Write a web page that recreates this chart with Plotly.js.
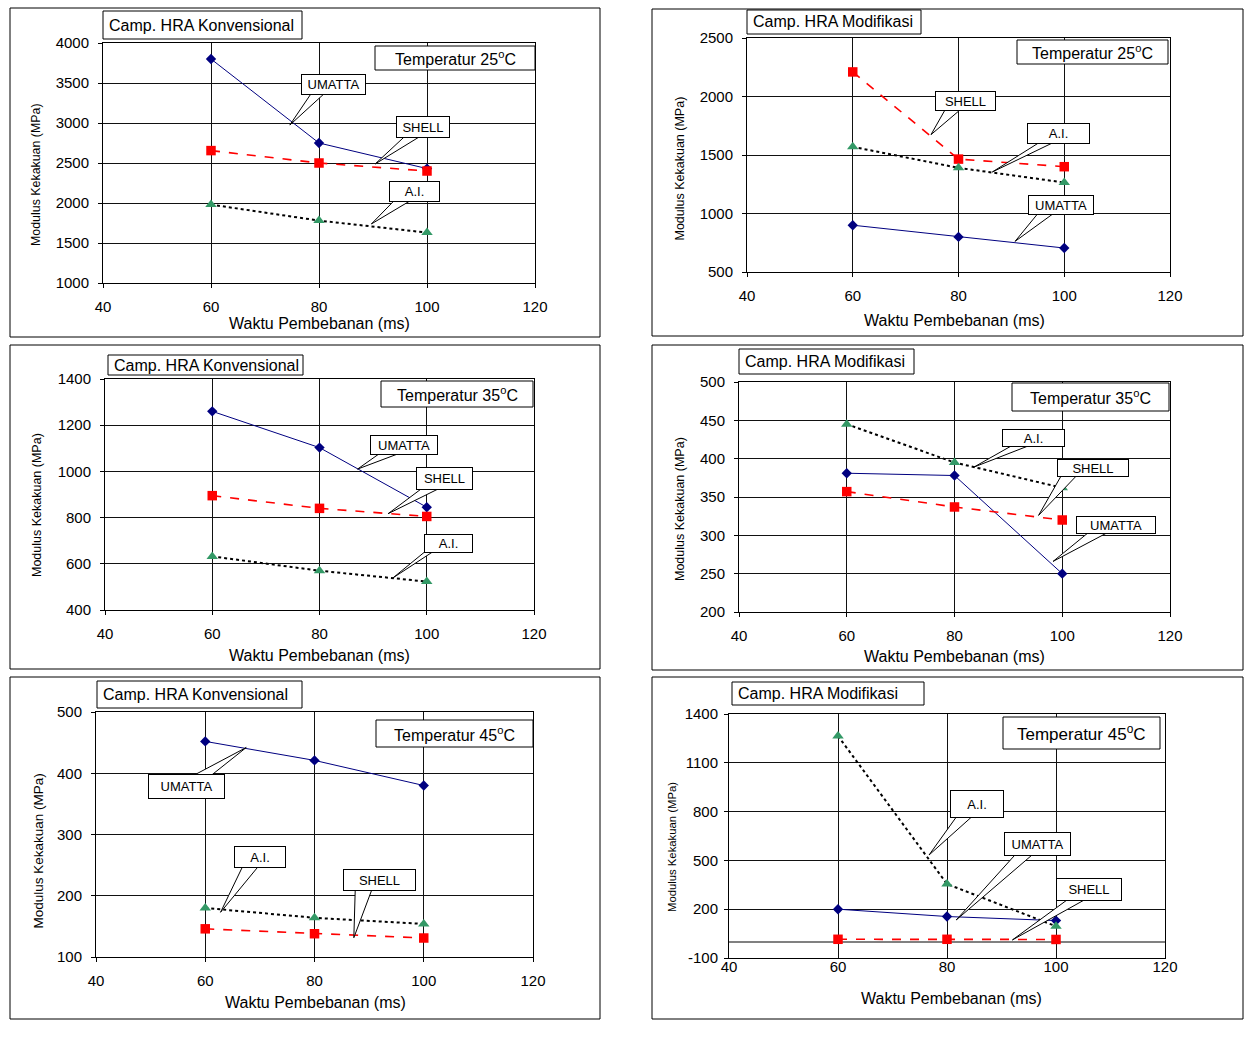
<!DOCTYPE html>
<html><head><meta charset="utf-8">
<script src="https://cdn.plot.ly/plotly-3.0.1.min.js"></script>
<style>html,body{margin:0;padding:0;background:#fff}#chart{width:1246px;height:1037px}</style>
</head><body><div id="chart"></div>
<script>
// ---------------- DATA ----------------
const waktu = [60, 80, 100];             // Waktu Pembebanan (ms)
const xTicks = [40, 60, 80, 100, 120];
const seriesNames = ['UMATTA', 'SHELL', 'A.I.'];

const konv25_umatta = [3800, 2750, 2430];
const konv25_shell  = [2655, 2500, 2400];
const konv25_ai     = [1980, 1780, 1630];

const mod25_umatta = [900, 800, 705];
const mod25_shell  = [2210, 1465, 1400];
const mod25_ai     = [1570, 1390, 1265];

const konv35_umatta = [1260, 1103, 845];
const konv35_shell  = [895, 840, 805];
const konv35_ai     = [632, 570, 523];

const mod35_umatta = [381, 378, 250];
const mod35_shell  = [357, 337, 320];
const mod35_ai     = [445, 395, 362];

const konv45_umatta = [452, 421, 380];
const konv45_shell  = [146, 138, 131];
const konv45_ai     = [180, 164, 154];

const mod45_umatta = [200, 155, 130];
const mod45_shell  = [15, 15, 14];
const mod45_ai     = [1265, 355, 95];

const mod45_yTickVals = [-100, 200, 500, 800, 1100, 1400];
const mod45_yTickText = ['-100', '200', '500', '800', '1100', '1400'];

const campTitles = ['Camp. HRA Konvensional', 'Camp. HRA Modifikasi',
                    'Camp. HRA Konvensional', 'Camp. HRA Modifikasi',
                    'Camp. HRA Konvensional', 'Camp. HRA Modifikasi'];
const temps = ['25', '25', '35', '35', '45', '45'];
const xTitle = 'Waktu Pembebanan (ms)';
const yTitle = 'Modulus Kekakuan (MPa)';

// ---------------- LAYOUT CONFIG ----------------
const W = 1246, H = 1037;
const px = v => v / W, py = v => 1 - v / H;

const panels = [
  { data: [konv25_umatta, konv25_shell, konv25_ai], plot: [103, 43, 535, 283], yr: [1000, 4000], dt: 500,
    frame: [10, 8, 600, 337], tbox: [103, 11, 302, 39], temp: [375, 46, 535, 70],
    xt: [319, 323], yt: [36, 175], ytSize: 12.4, tempSize: 16,
    callouts: [
      { s: 0, x: 74.6, y: 2975, bx: 43.5, by: -40.5, w: 65, h: 21, b1: 21, b2: 34 },
      { s: 1, x: 90.4, y: 2488, bx: 48, by: -37, w: 54, h: 22, b1: 29, b2: 44 },
      { s: 2, x: 89.7, y: 1738, bx: 43, by: -32.5, w: 51, h: 21, b1: 22.5, b2: 38.5 } ] },
  { data: [mod25_umatta, mod25_shell, mod25_ai], plot: [747, 38, 1170, 272], yr: [500, 2500], dt: 500,
    frame: [652, 9, 1243, 336], tbox: [747, 10, 921, 34], temp: [1017, 40, 1168, 64],
    xt: [954, 320], yt: [679.5, 169], ytSize: 12.5, tempSize: 16,
    callouts: [
      { s: 1, x: 74.8, y: 1674, bx: 34.5, by: -33.7, w: 61, h: 20, b1: 14, b2: 29 },
      { s: 2, x: 86.4, y: 1355, bx: 66, by: -38, w: 63, h: 21, b1: 45.4, b2: 59 },
      { s: 0, x: 90.7, y: 762, bx: 45.6, by: -36.6, w: 66, h: 20, b1: 22.6, b2: 38 } ] },
  { data: [konv35_umatta, konv35_shell, konv35_ai], plot: [105, 379, 534, 610], yr: [400, 1400], dt: 200,
    frame: [10, 345, 600, 669], tbox: [108, 355, 303, 375], temp: [381, 381, 533, 407],
    xt: [320, 655], yt: [37.5, 505.5], ytSize: 12.5, tempSize: 16,
    callouts: [
      { s: 0, x: 87.1, y: 1010, bx: 46.4, by: -24.3, w: 68, h: 20, b1: 21.6, b2: 40.6 },
      { s: 1, x: 92.8, y: 817, bx: 56.5, by: -35.2, w: 57, h: 23, b1: 33, b2: 50 },
      { s: 2, x: 93.7, y: 539, bx: 55.5, by: -34.7, w: 49, h: 19, b1: 32, b2: 40 } ] },
  { data: [mod35_umatta, mod35_shell, mod35_ai], plot: [739, 382, 1170, 612], yr: [200, 500], dt: 50,
    frame: [652, 345, 1243, 670], tbox: [739, 349, 914, 374], temp: [1012, 383, 1169, 411],
    xt: [954, 656], yt: [680, 509], ytSize: 12.5, tempSize: 16,
    callouts: [
      { s: 2, x: 83.6, y: 389, bx: 60, by: -29.5, w: 63, h: 18, b1: 38, b2: 55.2 },
      { s: 1, x: 95.6, y: 326, bx: 54.7, by: -47.7, w: 72, h: 18, b1: 22.7, b2: 38 },
      { s: 0, x: 98.3, y: 266, bx: 63, by: -36.6, w: 80, h: 18, b1: 35, b2: 54 } ] },
  { data: [konv45_umatta, konv45_shell, konv45_ai], plot: [96, 712, 533, 957], yr: [100, 500], dt: 100,
    frame: [10, 677, 600, 1019], tbox: [97, 681, 302, 708], temp: [376, 720, 533, 747],
    xt: [315, 1002], yt: [37.5, 851], ytSize: 13.5, tempSize: 16,
    callouts: [
      { s: 0, x: 67.5, y: 442, bx: -59.5, by: 38.8, w: 77, h: 25, b1: -51.5, b2: -34.3 },
      { s: 2, x: 62.8, y: 173, bx: 39.6, by: -54.8, w: 52, h: 22, b1: 21.6, b2: 36.9 },
      { s: 1, x: 87.2, y: 131.5, bx: 25.9, by: -57.7, w: 73, h: 22, b1: 1.4, b2: 17.9 } ] },
  { data: [mod45_umatta, mod45_shell, mod45_ai], plot: [729, 714, 1165, 958], yr: [-100, 1400], dt: 300,
    frame: [652, 677, 1243, 1019], tbox: [732, 682, 924, 705], temp: [1003, 717, 1160, 749],
    xt: [951, 998], yt: [672, 847], ytSize: 11.3, tempSize: 17, zero: true,
    tickvals: mod45_yTickVals, ticktext: mod45_yTickText,
    callouts: [
      { s: 2, x: 76.7, y: 533, bx: 48, by: -51.2, w: 54, h: 28, b1: 27.4, b2: 42.7 },
      { s: 0, x: 81.7, y: 134, bx: 81.3, by: -76.3, w: 67, h: 24, b1: 59, b2: 76.2 },
      { s: 1, x: 92, y: 11, bx: 76.6, by: -50.3, w: 66, h: 23, b1: 54.4, b2: 71.6 } ] }
];

const styles = [
  { line: { color: '#000080', width: 1, dash: 'solid' }, marker: { symbol: 'diamond', size: 8, color: '#000080' } },
  { line: { color: '#FF0000', width: 1.6, dash: 'dash' }, marker: { symbol: 'square', size: 9.5, color: '#FF0000' } },
  { line: { color: '#000000', width: 2, dash: 'dot' }, marker: { symbol: 'triangle-up', size: 10, color: '#339966' } }
];

const FONT = 'Liberation Sans, Arial, sans-serif';
const traces = [], shapes = [], annotations = [];
const layout = {
  width: W, height: H, margin: { l: 0, r: 0, t: 0, b: 0 },
  paper_bgcolor: '#fff', plot_bgcolor: '#fff', showlegend: false,
  font: { family: FONT, color: '#000' }
};

panels.forEach((p, i) => {
  const n = i + 1;
  const xa = 'x' + (n === 1 ? '' : n), ya = 'y' + (n === 1 ? '' : n);
  const xk = 'xaxis' + (n === 1 ? '' : n), yk = 'yaxis' + (n === 1 ? '' : n);
  const [l, t, r, b] = p.plot;
  layout[xk] = {
    domain: [px(l), px(r)], anchor: ya, range: [40, 120], tickvals: xTicks,
    ticks: p.zero ? '' : 'outside', ticklen: 4, tickcolor: '#000',
    ticklabelstandoff: p.zero ? -5 : 6,
    showline: true, linecolor: '#000', linewidth: 1, mirror: true,
    showgrid: true, gridcolor: '#111', gridwidth: 1, zeroline: false,
    tickfont: { family: FONT, size: 15, color: '#000' }, fixedrange: true
  };
  const yax = {
    domain: [py(b), py(t)], anchor: xa, range: p.yr, tick0: p.yr[0], dtick: p.dt,
    ticks: 'outside', ticklen: 4, tickcolor: '#000', ticklabelstandoff: p.zero ? 3 : 6,
    showline: true, linecolor: '#000', linewidth: 1, mirror: true,
    showgrid: true, gridcolor: '#111', gridwidth: 1,
    zeroline: !!p.zero, zerolinecolor: '#808080', zerolinewidth: 2,
    tickfont: { family: FONT, size: 15, color: '#000' }, fixedrange: true
  };
  if (p.tickvals) { yax.tickmode = 'array'; yax.tickvals = p.tickvals; yax.ticktext = p.ticktext; }
  layout[yk] = yax;
  p.data.forEach((ys, s) => {
    traces.push({
      type: 'scatter', mode: 'lines+markers', x: waktu, y: ys, name: seriesNames[s],
      xaxis: xa, yaxis: ya, line: styles[s].line, marker: styles[s].marker, cliponaxis: false
    });
  });
  // outer frame
  shapes.push({ type: 'rect', xref: 'paper', yref: 'paper', x0: px(p.frame[0]), x1: px(p.frame[2]),
    y0: py(p.frame[3]), y1: py(p.frame[1]), line: { color: '#000', width: 1 }, layer: 'below' });
  // title box
  shapes.push({ type: 'rect', xref: 'paper', yref: 'paper', x0: px(p.tbox[0]), x1: px(p.tbox[2]),
    y0: py(p.tbox[3]), y1: py(p.tbox[1]), line: { color: '#000', width: 1 }, fillcolor: '#fff', layer: 'above' });
  annotations.push({ xref: 'paper', yref: 'paper', x: px(p.tbox[0] + 4), y: py((p.tbox[1] + p.tbox[3]) / 2),
    xanchor: 'left', yanchor: 'middle', showarrow: false, text: campTitles[i],
    font: { family: FONT, size: 16, color: '#000' } });
  // temperature box
  shapes.push({ type: 'rect', xref: 'paper', yref: 'paper', x0: px(p.temp[0]), x1: px(p.temp[2]),
    y0: py(p.temp[3]), y1: py(p.temp[1]), line: { color: '#000', width: 1 }, fillcolor: '#fff', layer: 'above' });
  annotations.push({ xref: 'paper', yref: 'paper', x: px((p.temp[0] + p.temp[2]) / 2), y: py((p.temp[1] + p.temp[3]) / 2),
    xanchor: 'center', yanchor: 'middle', showarrow: false, text: 'Temperatur ' + temps[i] + '<sup>o</sup>C',
    font: { family: FONT, size: p.tempSize, color: '#000' } });
  // axis titles
  annotations.push({ xref: 'paper', yref: 'paper', x: px(p.xt[0]), y: py(p.xt[1]), xanchor: 'center', yanchor: 'middle',
    showarrow: false, text: xTitle, font: { family: FONT, size: 16, color: '#000' } });
  annotations.push({ xref: 'paper', yref: 'paper', x: px(p.yt[0]), y: py(p.yt[1]), xanchor: 'center', yanchor: 'middle',
    showarrow: false, text: yTitle, textangle: -90, font: { family: FONT, size: p.ytSize, color: '#000' } });
  // callouts
  p.callouts.forEach(c => {
    const baseY = c.by < 0 ? c.by + c.h / 2 - 1 : c.by - c.h / 2 + 1;
    shapes.push({ type: 'path', xref: xa, yref: ya, xsizemode: 'pixel', ysizemode: 'pixel',
      xanchor: c.x, yanchor: c.y,
      path: `M0,0 L${c.b1},${-baseY} L${c.b2},${-baseY} Z`,
      fillcolor: '#fff', line: { color: '#000', width: 1 }, layer: 'above' });
    annotations.push({ xref: xa, yref: ya, x: c.x, y: c.y, xshift: c.bx, yshift: -c.by,
      xanchor: 'center', yanchor: 'middle', showarrow: false, text: seriesNames[c.s],
      bgcolor: '#fff', bordercolor: '#000', borderwidth: 1, borderpad: 0, width: c.w - 2, height: c.h - 2,
      font: { family: FONT, size: 13, color: '#000' } });
  });
});

layout.shapes = shapes;
layout.annotations = annotations;
Plotly.newPlot('chart', traces, layout, { staticPlot: true, displayModeBar: false });
</script>
</body></html>
